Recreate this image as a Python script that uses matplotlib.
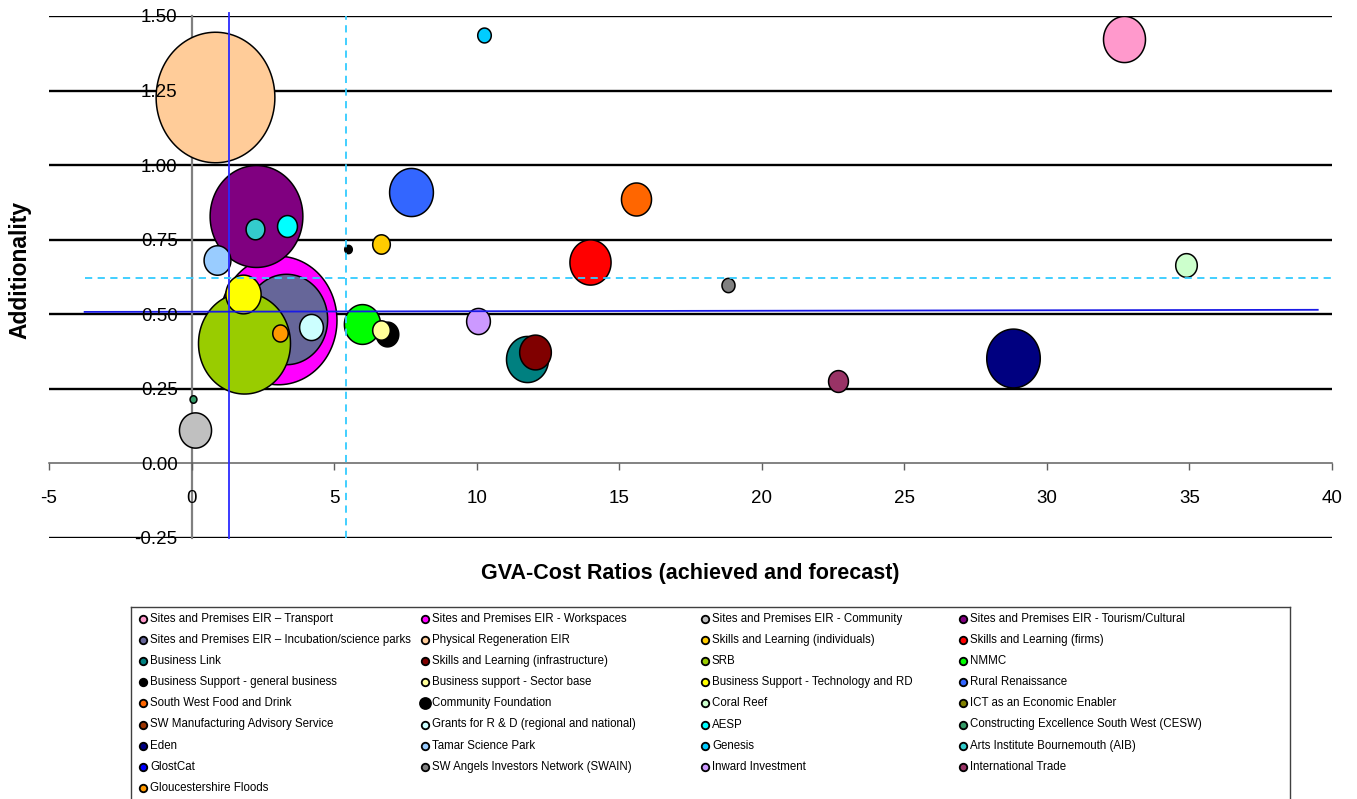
import numpy as np
import matplotlib
matplotlib.use("Agg")
import matplotlib.pyplot as plt
from matplotlib.path import Path
from matplotlib.ticker import FormatStrFormatter
from matplotlib import font_manager

# ---- data -------------------------------------------------------------
programmes = [
    "Sites and Premises EIR \u2013 Transport",
    "Sites and Premises EIR - Workspaces",
    "Sites and Premises EIR - Community",
    "Sites and Premises EIR - Tourism/Cultural",
    "Sites and Premises EIR \u2013 Incubation/science parks",
    "Physical Regeneration EIR",
    "Skills and Learning (individuals)",
    "Skills and Learning (firms)",
    "Business Link",
    "Skills and Learning (infrastructure)",
    "SRB",
    "NMMC",
    "Business Support - general business",
    "Business support - Sector base",
    "Business Support - Technology and RD",
    "Rural Renaissance",
    "South West Food and Drink",
    "Community Foundation",
    "Coral Reef",
    "ICT as an Economic Enabler",
    "SW Manufacturing Advisory Service",
    "Grants for R & D (regional and national)",
    "AESP",
    "Constructing Excellence South West (CESW)",
    "Eden",
    "Tamar Science Park",
    "Genesis",
    "Arts Institute Bournemouth (AIB)",
    "GlostCat",
    "SW Angels Investors Network (SWAIN)",
    "Inward Investment",
    "International Trade",
    "Gloucestershire Floods",
]

colors = [
    "#FF99CC", "#FF00FF", "#C0C0C0", "#800080",
    "#666699", "#FFCC99", "#FFCC00", "#FF0000",
    "#008080", "#800000", "#99CC00", "#00FF00",
    "#000000", "#FFFF99", "#FFFF00", "#3366FF",
    "#FF6600", "#000000", "#CCFFCC", "#808000",
    "#993300", "#CCFFFF", "#00FFFF", "#339966",
    "#000080", "#99CCFF", "#00CCFF", "#33CCCC",
    "#0000FF", "#808080", "#CC99FF", "#993366",
    "#FF9900",
]

gva_cost = [
    32.69, 3.03, 0.12, 2.26,
    3.31, 0.82, 6.63, 13.98,
    11.75, 12.06, 1.83, 5.97,
    5.49, 6.66, 1.79, 7.68,
    15.59, 6.86, 34.88, np.nan,
    np.nan, 4.18, 3.36, 0.05,
    28.81, 0.89, 10.26, 2.23,
    np.nan, 18.82, 10.04, 22.68,
    3.09,
]

additionality = [
    1.422, 0.480, 0.113, 0.829,
    0.484, 1.227, 0.737, 0.676,
    0.351, 0.375, 0.404, 0.467,
    0.720, 0.446, 0.569, 0.909,
    0.888, 0.435, 0.665, np.nan,
    np.nan, 0.457, 0.795, 0.215,
    0.355, 0.683, 1.437, 0.787,
    np.nan, 0.597, 0.476, 0.275,
    0.438,
]

bubble_size = [
    12.5, 97.0, 7.3, 61.0,
    48.0, 100.0, 2.2, 12.0,
    12.5, 7.1, 60.0, 9.3,
    0.4, 2.2, 8.8, 13.6,
    6.4, 3.6, 3.3, np.nan,
    np.nan, 4.0, 2.8, 0.33,
    20.3, 5.1, 1.3, 2.5,
    np.nan, 1.2, 4.0, 2.8,
    1.7,
]

# average / median reference lines
x_ref_solid = 1.33
x_ref_dashed = 5.40
y_ref_solid = (0.508, 0.515)
y_ref_dashed = 0.62

x_ticks = list(range(-5, 41, 5))
y_ticks = [-0.25, 0.0, 0.25, 0.50, 0.75, 1.00, 1.25, 1.50]

# ---- fonts ------------------------------------------------------------
available = {f.name for f in font_manager.fontManager.ttflist}
base_font = "Liberation Sans" if "Liberation Sans" in available else "DejaVu Sans"
if "Liberation Sans Narrow" in available:
    legend_font, legend_size = "Liberation Sans Narrow", 9.4
else:
    legend_font, legend_size = base_font, 8.3
plt.rcParams["font.family"] = [base_font, "DejaVu Sans"]
plt.rcParams["axes.unicode_minus"] = False

# ---- figure -----------------------------------------------------------
W, H, DPI = 1357, 799, 100
fig = plt.figure(figsize=(W / DPI, H / DPI), dpi=DPI)
ax = fig.add_axes([49 / W, 1 - 538 / H, (1332 - 49) / W, 522 / H])
ax.set_xlim(-5, 40)
ax.set_ylim(-0.25, 1.5)

# bubbles are drawn slightly taller than wide
theta = np.linspace(0, 2 * np.pi, 120)
ellipse = Path(np.column_stack([0.91 * np.cos(theta), np.sin(theta)]), closed=True)

ax_h_px = ax.get_position().height * H
max_diam_pt = 0.25 * ax_h_px * 72 / DPI
size_max = np.nanmax(bubble_size)

# stacking: later programmes sit on top; Community Foundation sits under Sector base
z_order = {name: 3 + 0.01 * i for i, name in enumerate(programmes)}
z_order["Community Foundation"] = z_order["Business support - Sector base"] - 0.005

for name, col, gx, ay, sz in zip(programmes, colors, gva_cost, additionality, bubble_size):
    if np.isnan(gx):
        continue
    d = max_diam_pt * np.sqrt(sz / size_max)
    ax.scatter([gx], [ay], s=d ** 2, marker=ellipse, facecolor=col,
               edgecolor="black", linewidth=1.1, zorder=z_order[name])

# horizontal gridlines (under the bubbles)
for yv in y_ticks:
    if yv != 0:
        ax.axhline(yv, color="black", lw=1.7, zorder=2)

# reference lines
ax.plot([x_ref_solid, x_ref_solid], [-0.25, 1.51], color="#2b2bff", lw=1.3,
        zorder=10, clip_on=False)
ax.plot([x_ref_dashed, x_ref_dashed], [-0.25, 1.5], color="#33ccff", lw=1.3,
        ls=(0, (4, 3)), zorder=10)
ax.plot([-3.75, 39.5], list(y_ref_solid), color="#1a1ae6", lw=1.3, zorder=10)
ax.plot([-3.75, 40.0], [y_ref_dashed, y_ref_dashed], color="#33ccff", lw=1.3,
        ls=(0, (4, 3)), zorder=10)

# axes through the origin
for side in ("top", "right"):
    ax.spines[side].set_visible(False)
ax.spines["left"].set_position(("data", 0))
ax.spines["bottom"].set_position(("data", 0))
ax.spines["left"].set_color("#808080")
ax.spines["left"].set_linewidth(1.6)
ax.spines["bottom"].set_color("#606060")
ax.spines["bottom"].set_linewidth(1.1)
ax.spines["left"].set_zorder(2.5)
ax.spines["bottom"].set_zorder(2.5)

ax.set_xticks(x_ticks)
ax.set_yticks(y_ticks)
ax.yaxis.set_major_formatter(FormatStrFormatter("%.2f"))
ax.tick_params(axis="x", direction="out", length=5, width=1, color="#606060",
               labelsize=13.5, pad=14)
ax.tick_params(axis="y", length=0, labelsize=13.5, pad=10)
# tick labels stay readable above the bubbles
ax.xaxis.set_zorder(20)
ax.yaxis.set_zorder(20)
ax.patch.set_visible(False)

ax.set_xlabel("GVA-Cost Ratios (achieved and forecast)", fontsize=15.5,
              fontweight="bold")
ax.xaxis.set_label_coords(0.5, (538 - 574) / 522)
ax.xaxis.label.set_va("center")
ax.set_ylabel("Additionality", fontsize=16.5, fontweight="bold")
ax.yaxis.set_label_coords((20 - 49) / 1283, (538 - 270) / 522)
ax.yaxis.label.set_va("center")

# ---- legend panel -----------------------------------------------------
lx0, lx1, ly_top = 131, 1290, 607
lax = fig.add_axes([lx0 / W, 0, (lx1 - lx0) / W, (H - ly_top) / H])
lax.set_xlim(0, lx1 - lx0)
lax.set_ylim(0, H - ly_top)
lax.set_xticks([])
lax.set_yticks([])
for side in ("top", "left", "right"):
    lax.spines[side].set_color("#404040")
    lax.spines[side].set_linewidth(1.0)
lax.spines["bottom"].set_visible(False)

col_x = [12, 294, 574, 832]
row_step = 21.1
first_row = 619 - ly_top
n_cols = 4
for i, (name, col) in enumerate(zip(programmes, colors)):
    r, c = divmod(i, n_cols)
    x = col_x[c]
    y = (H - ly_top) - first_row - r * row_step
    ms = 11 if name == "Community Foundation" else 7.5
    lax.plot([x], [y], marker="o", ms=ms * 72 / DPI, mfc=col, mec="black",
             mew=1.3, ls="none", clip_on=False)
    lax.text(x + 7, y, name, fontsize=legend_size, family=[legend_font, "DejaVu Sans"],
             va="center", ha="left")

fig.savefig("out.png", dpi=DPI)
